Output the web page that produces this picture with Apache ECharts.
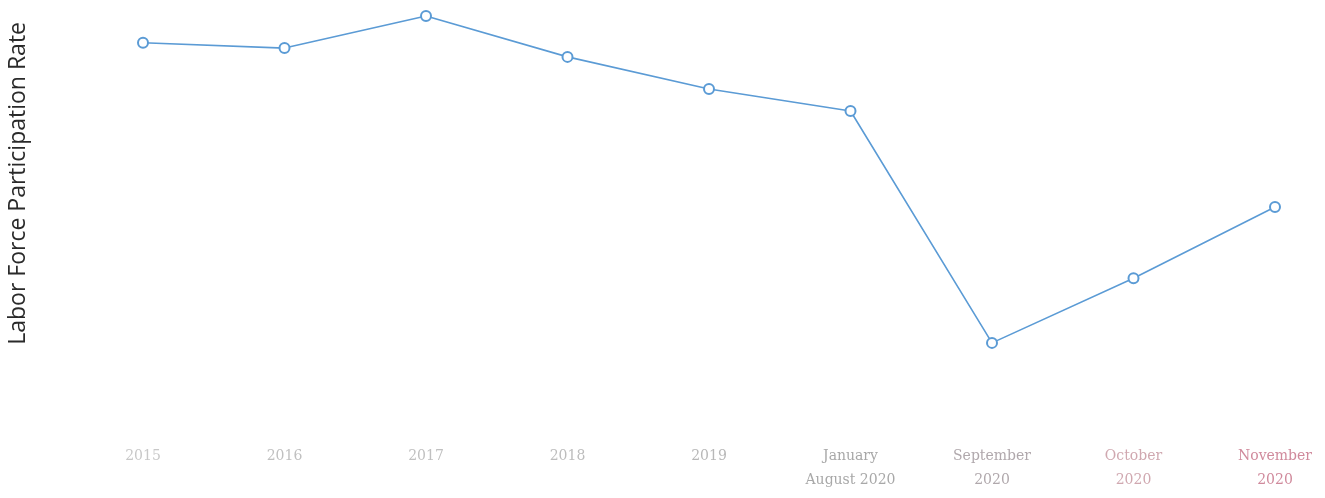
<!DOCTYPE html>
<html>
<head>
<meta charset="utf-8">
<script src="https://cdn.jsdelivr.net/npm/echarts@6/dist/echarts.min.js"></script>
<style>html,body{margin:0;padding:0;background:#fff}#c{width:1325px;height:498px}</style>
</head>
<body>
<div id="c"></div>
<script>
const categories = ['2015', '2016', '2017', '2018', '2019', 'January\nAugust 2020', 'September\n2020', 'October\n2020', 'November\n2020'];
const participationRate = [63.30, 63.18, 63.91, 62.98, 62.25, 61.75, 56.48, 57.95, 59.57];
const labelColors = ['#c8c8c8', '#c0c0c0', '#c0c0c0', '#bdbdbd', '#b8b8b8', '#a8a8a8', '#b0a8ac', '#d0a8b0', '#d08a9c'];
const yTitle = 'Labor Force Participation Rate';

const chart = echarts.init(document.getElementById('c'), null, {renderer: 'canvas'});
chart.setOption({
  backgroundColor: '#ffffff',
  animation: false,
  grid: {left: 143, right: 50, top: 12, bottom: 90},
  xAxis: {
    type: 'category',
    data: categories,
    boundaryGap: false,
    axisLine: {show: false},
    axisTick: {show: false},
    splitLine: {show: false},
    axisLabel: {
      margin: 36,
      fontFamily: 'DejaVu Serif',
      fontSize: 14,
      lineHeight: 24,
      interval: 0,
      color: function (v, i) { return labelColors[i]; }
    }
  },
  yAxis: {
    type: 'value',
    min: 55,
    max: 64,
    interval: 1,
    axisLine: {show: false},
    axisTick: {show: false},
    splitLine: {show: false},
    axisLabel: {show: false}
  },
  graphic: [{
    type: 'text',
    left: 7,
    top: 22,
    rotation: Math.PI / 2,
    style: {
      text: yTitle,
      fontFamily: 'Open Sans',
      fontSize: 23,
      fill: '#2a2a2a'
    }
  }],
  series: [{
    type: 'line',
    data: participationRate,
    symbol: 'emptyCircle',
    symbolSize: 10,
    lineStyle: {color: '#5b9bd5', width: 1.6},
    itemStyle: {color: '#5b9bd5', borderColor: '#4a86c0', borderWidth: 1.5}
  }]
});
</script>
</body>
</html>
